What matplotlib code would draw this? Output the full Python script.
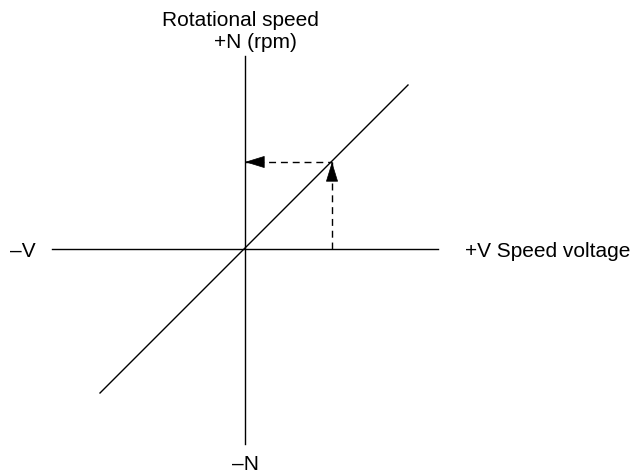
import matplotlib
matplotlib.use("Agg")
import matplotlib.pyplot as plt

# Axes extents (voltage / speed units, origin at centre)
v_axis = [-193, 193]
n_axis = [-195, 193]

# Characteristic line: speed proportional to voltage
line_v = [-145, 163]
line_n = [-144, 164]

# Operating point
op_v = 87
op_n = 87

plt.rcParams['font.family'] = ['Liberation Sans', 'DejaVu Sans']

fig = plt.figure(figsize=(6.33, 4.74), dpi=100)
ax = fig.add_axes([0, 0, 1, 1])
ax.set_xlim(-245, 388)
ax.set_ylim(-225, 249)
ax.axis('off')

# Axes
ax.plot(v_axis, [0, 0], color='black', lw=1.0)
ax.plot([0, 0], n_axis, color='black', lw=1.0)

# Characteristic
ax.plot(line_v, line_n, color='black', lw=1.0)

# Dashed guides from operating point
dash = (0, (5, 3.5))
ax.plot([op_v, op_v], [0, op_n], color='black', lw=1.0, linestyle=dash)
ax.plot([0, op_v], [op_n, op_n], color='black', lw=1.0, linestyle=dash)

# Arrowheads
head = dict(arrowstyle='-|>,head_length=1.3,head_width=0.4', mutation_scale=10,
            color='black', lw=0.5, shrinkA=0, shrinkB=0)
ax.annotate("", xy=(op_v, op_n), xytext=(op_v, op_n - 18), arrowprops=head)
ax.annotate("", xy=(0, op_n), xytext=(18, op_n), arrowprops=head)

# Labels
fs = 15
ax.text(-5, 223, "Rotational speed", fontsize=fs, ha='center', va='baseline')
ax.text(10, 201, "+N (rpm)", fontsize=fs, ha='center', va='baseline')
ax.text(-235, -8, "\u2013V", fontsize=fs, ha='left', va='baseline')
ax.text(220, -8, "+V Speed voltage", fontsize=fs, ha='left', va='baseline')
ax.text(0, -221, "\u2013N", fontsize=fs, ha='center', va='baseline')

fig.savefig("out.png", dpi=100)
